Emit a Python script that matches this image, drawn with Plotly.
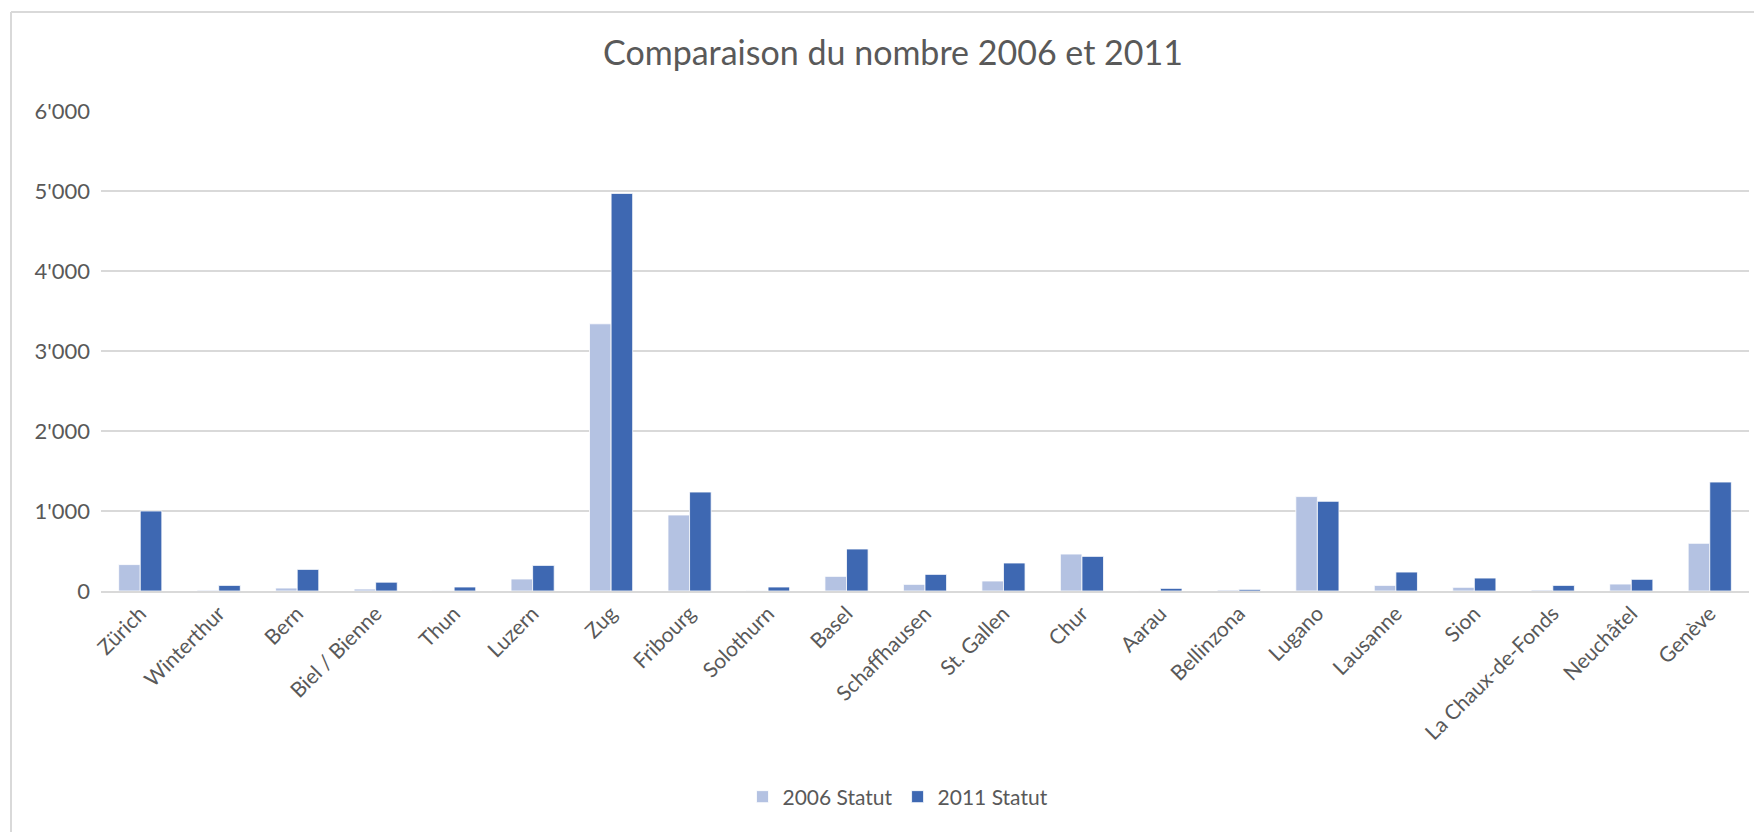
import plotly.graph_objects as go

categories = ["Zürich", "Winterthur", "Bern", "Biel / Bienne", "Thun", "Luzern", "Zug",
              "Fribourg", "Solothurn", "Basel", "Schaffhausen", "St. Gallen", "Chur",
              "Aarau", "Bellinzona", "Lugano", "Lausanne", "Sion", "La Chaux-de-Fonds",
              "Neuchâtel", "Genève"]
values_2006 = [330, 10, 37, 25, 4, 150, 3340, 950, 6, 183, 83, 125, 462, 3, 12, 1180, 70, 46, 12, 87, 596]
values_2011 = [1000, 70, 270, 110, 50, 320, 4970, 1237, 50, 525, 208, 350, 433, 33, 20, 1121, 237, 162, 70, 146, 1362]
series_names = ["2006 Statut", "2011 Statut"]
title_text = "Comparaison du nombre 2006 et 2011"

# page body has an 8px margin, so the figure is offset by 8px
W, H = 1754, 824
L, R, T, B = 93, 13, 103, 241
pw, ph = W - L - R, H - T - B

def px_x(x):
    return (x - L) / pw

def px_y(y):
    return (H - B - y) / ph

FONT = "Lato, Carlito, Calibri, sans-serif"
TXT = "#595959"
GRID = "#d9d9d9"

fig = go.Figure()
fig.add_trace(go.Bar(x=categories, y=values_2006, name=series_names[0],
                     marker=dict(color="#b4c2e2", line=dict(color="white", width=0.8))))
fig.add_trace(go.Bar(x=categories, y=values_2011, name=series_names[1],
                     marker=dict(color="#3e68b2", line=dict(color="white", width=0.8))))

fig.update_layout(
    width=W, height=H,
    margin=dict(l=L, r=R, t=T, b=B, autoexpand=False),
    paper_bgcolor="white", plot_bgcolor="white",
    separators=".'",
    font=dict(family=FONT, color=TXT, size=21),
    barmode="group", bargap=0.45, bargroupgap=0,
    title=dict(text=title_text, x=885 / W, xref="container", xanchor="center",
               y=1 - 45 / H, yref="container", yanchor="middle",
               font=dict(family=FONT, size=34, color=TXT)),
    legend=dict(orientation="h", x=px_x(890), xanchor="center", y=px_y(789), yanchor="middle",
                font=dict(size=21, color=TXT), itemwidth=30, traceorder="normal"),
    xaxis=dict(tickangle=-45, showgrid=False, showline=True, linecolor=GRID, linewidth=2,
               ticks="", tickfont=dict(size=21, color=TXT)),
    yaxis=dict(range=[0, 6000], tickvals=[0, 1000, 2000, 3000, 4000, 5000, 6000], tickformat=",",
               showgrid=True, gridcolor=GRID, gridwidth=1.5, zeroline=False, showline=False,
               ticks="", ticklabelstandoff=10, tickfont=dict(size=22, color=TXT)),
    shapes=[
        dict(type="line", xref="paper", yref="paper", x0=px_x(3), x1=px_x(W), y0=px_y(4), y1=px_y(4),
             line=dict(color=GRID, width=2)),
        dict(type="line", xref="paper", yref="paper", x0=px_x(3), x1=px_x(3), y0=px_y(4), y1=px_y(H),
             line=dict(color=GRID, width=2)),
    ],
)

fig.write_html("out.html")
